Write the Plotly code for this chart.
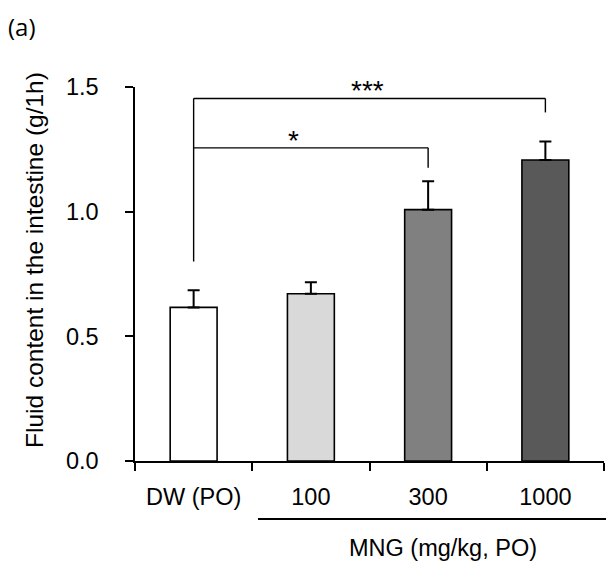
import plotly.graph_objects as go

categories = ["DW (PO)", "100", "300", "1000"]
means = [0.616, 0.671, 1.008, 1.207]
sem = [0.069, 0.046, 0.114, 0.074]
colors = ["#ffffff", "#d9d9d9", "#808080", "#595959"]
y_ticks = [0.0, 0.5, 1.0, 1.5]
# significance brackets: (x_start, x_end, bar top, drop end, label)
brackets = [
    (0, 3, 1.454, 1.398, "***"),
    (0, 2, 1.256, 1.176, "*"),
]
bracket_base = 0.80

FONT = "Liberation Sans, Arial, sans-serif"
FS = 23.5

fig = go.Figure()
fig.add_trace(go.Bar(
    x=categories, y=means, width=0.4,
    marker=dict(color=colors, line=dict(color="black", width=1.6)),
    error_y=dict(type="data", symmetric=False, array=sem, arrayminus=[0]*4,
                 color="black", thickness=2, width=6),
    showlegend=False,
))

W, H = 606, 567
L, R, T, B = 135, 2, 87, 106
pw, ph = W - L - R, H - T - B
def px(x):
    return (x - L) / pw
def py(y):
    return (H - B - y) / ph

shapes = []
shapes.append(dict(type="line", xref="x", yref="y", x0=0, x1=0,
                   y0=bracket_base, y1=brackets[0][2],
                   line=dict(color="black", width=1.4)))
annotations = []
label_x = [367, 293]
for (x0, x1, ytop, ydrop, lab), lx in zip(brackets, label_x):
    shapes.append(dict(type="line", xref="x", yref="y", x0=x0, x1=x1, y0=ytop, y1=ytop,
                       line=dict(color="black", width=1.4)))
    shapes.append(dict(type="line", xref="x", yref="y", x0=x1, x1=x1, y0=ytop, y1=ydrop,
                       line=dict(color="black", width=1.4)))
    annotations.append(dict(xref="paper", yref="y", x=px(lx), y=ytop,
                            text=lab, showarrow=False, yanchor="bottom", yshift=-10,
                            font=dict(family=FONT, size=28, color="black")))

shapes.append(dict(type="line", xref="paper", yref="paper", x0=px(258), x1=px(606),
                   y0=py(519), y1=py(519), line=dict(color="black", width=2)))

annotations += [
    dict(xref="paper", yref="paper", x=px(6), y=py(26), xanchor="left", yanchor="middle",
         text="(a)", showarrow=False, font=dict(family="Open Sans, sans-serif", size=24, color="black")),
    dict(xref="paper", yref="paper", x=px(34), y=py(260), xanchor="center", yanchor="middle",
         text="Fluid content in the intestine (g/1h)", textangle=-90, showarrow=False,
         font=dict(family=FONT, size=24.5, color="black")),
    dict(xref="paper", yref="paper", x=px(443), y=py(548), xanchor="center", yanchor="middle",
         text="MNG (mg/kg, PO)", showarrow=False, font=dict(family=FONT, size=FS, color="black")),
]

fig.update_layout(
    width=W, height=H,
    margin=dict(l=L, r=R, t=T, b=B, pad=0),
    plot_bgcolor="white", paper_bgcolor="white",
    font=dict(family=FONT, size=FS, color="black"),
    shapes=shapes, annotations=annotations,
)
fig.update_xaxes(type="category", tickson="boundaries", ticks="outside", ticklen=8,
                 tickwidth=1.5, tickcolor="black", showline=True, linecolor="black",
                 linewidth=1.5, showgrid=False, zeroline=False, ticklabelstandoff=14,
                 tickfont=dict(family=FONT, size=FS, color="black"))
fig.update_yaxes(range=[0, 1.5], tickvals=y_ticks, tickformat=".1f", ticks="outside",
                 ticklen=8, tickwidth=1.5, tickcolor="black", showline=True,
                 linecolor="black", linewidth=1.5, showgrid=False, zeroline=False,
                 ticklabelstandoff=22, tickfont=dict(family=FONT, size=FS, color="black"))

fig.write_html("out.html", config={"displayModeBar": False},
               post_script="document.body.style.margin='0';document.body.style.overflow='hidden';")
